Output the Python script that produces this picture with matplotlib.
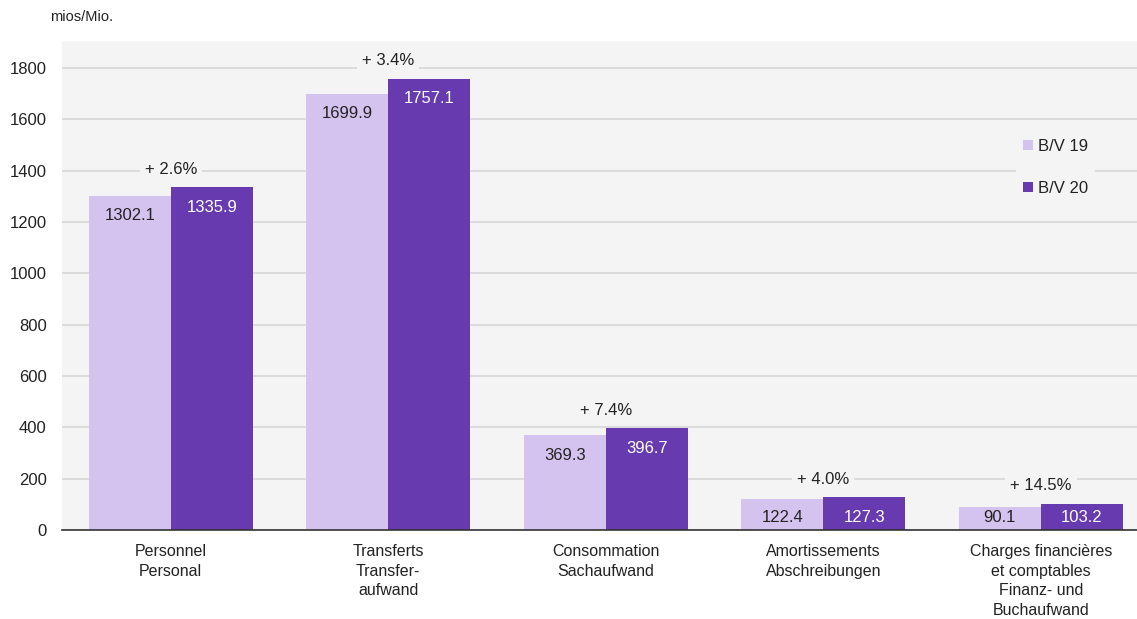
import matplotlib.pyplot as plt
import numpy as np

plt.rcParams['font.family'] = ['Liberation Sans', 'DejaVu Sans']

## ----- DATA ------ ##

categories = ["Personnel\nPersonal",
              "Transferts\nTransfer-\naufwand",
              "Consommation\nSachaufwand",
              "Amortissements\nAbschreibungen",
              "Charges financières\net comptables\nFinanz- und\nBuchaufwand"]
bv19 = [1302.1, 1699.9, 369.3, 122.4, 90.1]
bv20 = [1335.9, 1757.1, 396.7, 127.3, 103.2]
changes = ["+ 2.6%", "+ 3.4%", "+ 7.4%", "+ 4.0%", "+ 14.5%"]
yticks = [0, 200, 400, 600, 800, 1000, 1200, 1400, 1600, 1800]

light = "#D5C3EF"
dark = "#673AB0"
bg = "#F4F4F4"
txt = "#222222"

## ----- PLOT ------ ##

fig = plt.figure(figsize=(11.37, 6.19), dpi=100)
ax = fig.add_axes([62 / 1137, (619 - 530) / 619, 1 - 62 / 1137, (530 - 41) / 619])
ax.set_facecolor(bg)

x = np.arange(len(categories))
w = 0.377
ax.bar(x - w / 2, bv19, w, color=light, label="B/V 19", zorder=2)
ax.bar(x + w / 2, bv20, w, color=dark, label="B/V 20", zorder=2)

ax.set_xlim(-0.5, -0.5 + (1137 - 62) / 217.5)
ax.set_ylim(0, 1905)
ax.set_yticks(yticks)
ax.yaxis.grid(True, color="#D6D6D6", linewidth=1.2, zorder=0)
ax.set_axisbelow(True)
ax.tick_params(axis="y", length=0, pad=11, labelsize=12, labelcolor=txt)
ax.tick_params(axis="x", length=0, pad=10, labelsize=11.5, labelcolor=txt)
ax.set_xticks(x)
ax.set_xticklabels(categories, linespacing=1.39, va="top")
for s in ["top", "right", "left"]:
    ax.spines[s].set_visible(False)
ax.spines["bottom"].set_color("#333333")
ax.spines["bottom"].set_linewidth(1.2)
ax.spines["bottom"].set_zorder(3)

# value labels inside the bars: 20 px below the top, kept 12 px above the base
px = 1905 / (530 - 41)


def label_y(v):
    return max(v - 20 * px, 12 * px)


for i in range(len(categories)):
    ax.text(x[i] - w / 2, label_y(bv19[i]), f"{bv19[i]:.1f}", ha="center", va="center",
            fontsize=12, color=txt, zorder=4)
    ax.text(x[i] + w / 2, label_y(bv20[i]), f"{bv20[i]:.1f}", ha="center", va="center",
            fontsize=12, color="white", zorder=4)
    top = max(bv19[i], bv20[i])
    ax.text(x[i], top + 18 * px, changes[i], ha="center", va="center", fontsize=12,
            color=txt, zorder=4,
            bbox=dict(boxstyle="square,pad=0.3", facecolor=bg, edgecolor="none"))

leg = ax.legend(loc="upper left", bbox_to_anchor=((1008 - 62) / (1137 - 62), (530 - 124) / 489),
                frameon=True, fontsize=12, handlelength=0.6, handleheight=0.6,
                handletextpad=0.3, labelspacing=1.6, borderpad=0.4)
leg.get_frame().set_facecolor(bg)
leg.get_frame().set_edgecolor("none")
leg.get_frame().set_alpha(1)
for t in leg.get_texts():
    t.set_color(txt)

fig.text(50 / 1137, 1 - 17 / 619, "mios/Mio.", fontsize=10.5, color=txt, va="center", ha="left")

fig.savefig("out.png", dpi=100, facecolor="white")
